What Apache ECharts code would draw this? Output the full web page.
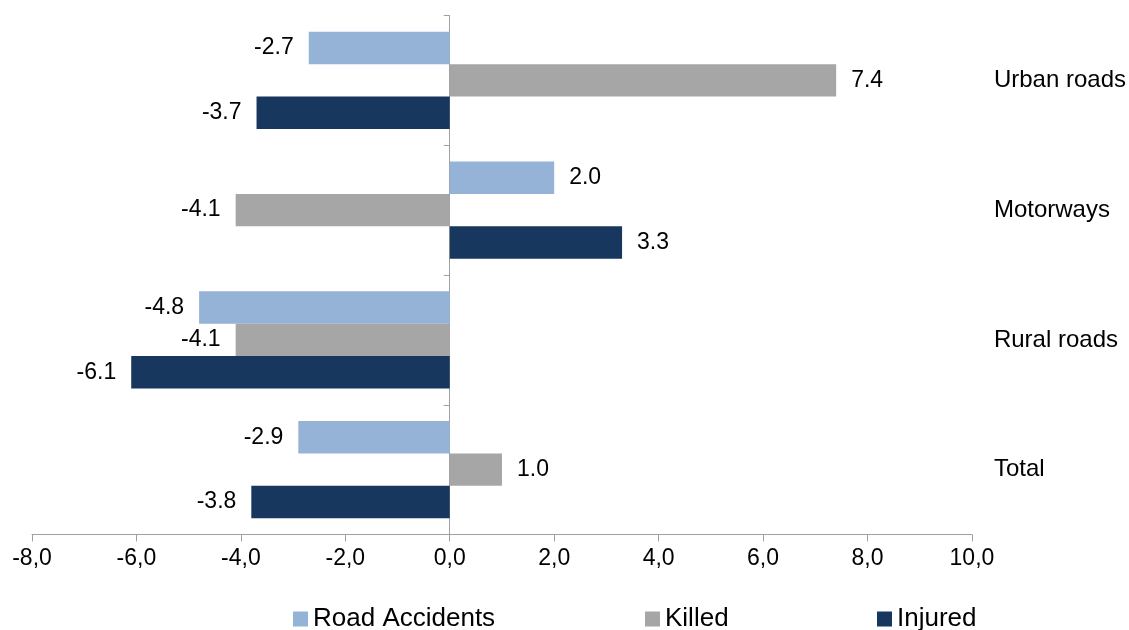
<!DOCTYPE html>
<html>
<head>
<meta charset="utf-8">
<script src="https://cdn.jsdelivr.net/npm/echarts@6/dist/echarts.min.js"></script>
<style>
html,body{margin:0;padding:0;background:#fff;}
#c{width:1129px;height:630px;}
</style>
</head>
<body>
<div id="c"></div>
<script>
const categories = ['Urban roads', 'Motorways', 'Rural roads', 'Total'];
const roadAccidents = [-2.7, 2.0, -4.8, -2.9];
const killed = [7.4, -4.1, -4.1, 1.0];
const injured = [-3.7, 3.3, -6.1, -3.8];
const seriesNames = ['Road Accidents', 'Killed', 'Injured'];
const colors = ['#95B3D7', '#A6A6A6', '#17375E'];

const FONT = '"Liberation Sans", Arial, sans-serif';

function mkData(arr) {
  return arr.map(v => ({
    value: v,
    label: { position: v < 0 ? 'left' : 'right' }
  }));
}

function mkSeries(name, arr, color) {
  return {
    name: name,
    type: 'bar',
    yAxisIndex: 0,
    data: mkData(arr),
    itemStyle: { color: color },
    barGap: '0%',
    barCategoryGap: '25%',
    label: {
      show: true,
      distance: 15,
      color: '#000',
      fontFamily: FONT,
      fontSize: 23,
      formatter: p => p.value.toFixed(1)
    }
  };
}

function mkLegend(name, left) {
  return {
    data: [name], left: left, top: 606, icon: 'rect', padding: 0,
    itemWidth: 15, itemHeight: 15, itemGap: 5,
    textStyle: { fontFamily: FONT, fontSize: 26, color: '#000' }
  };
}

const chart = echarts.init(document.getElementById('c'), null, { renderer: 'canvas' });
chart.setOption({
  animation: false,
  backgroundColor: '#fff',
  textStyle: { fontFamily: FONT },
  grid: { left: 32, right: 157, top: 15.5, bottom: 95.5, containLabel: false },
  legend: [
    mkLegend(seriesNames[0], 293),
    mkLegend(seriesNames[1], 645),
    mkLegend(seriesNames[2], 877)
  ],
  xAxis: {
    type: 'value',
    min: -8,
    max: 10,
    interval: 2,
    axisLine: { show: true, lineStyle: { color: '#A0A0A0', width: 1 } },
    axisTick: { show: true, length: 7, lineStyle: { color: '#A0A0A0' } },
    splitLine: { show: false },
    axisLabel: {
      margin: 13,
      color: '#000',
      fontFamily: FONT,
      fontSize: 23,
      formatter: v => v.toFixed(1).replace('.', ',')
    }
  },
  yAxis: [
    {
      type: 'category',
      data: categories,
      inverse: true,
      axisLine: { show: true, onZero: true, lineStyle: { color: '#A0A0A0', width: 1 } },
      axisTick: { show: true, length: 6, lineStyle: { color: '#A0A0A0' } },
      axisLabel: { show: false }
    },
    {
      type: 'category',
      data: categories,
      inverse: true,
      position: 'right',
      axisLine: { show: false },
      axisTick: { show: false },
      axisLabel: {
        show: true,
        margin: 22,
        color: '#000',
        fontFamily: FONT,
        fontSize: 24
      }
    }
  ],
  series: [
    mkSeries(seriesNames[0], roadAccidents, colors[0]),
    mkSeries(seriesNames[1], killed, colors[1]),
    mkSeries(seriesNames[2], injured, colors[2])
  ]
});
</script>
</body>
</html>
